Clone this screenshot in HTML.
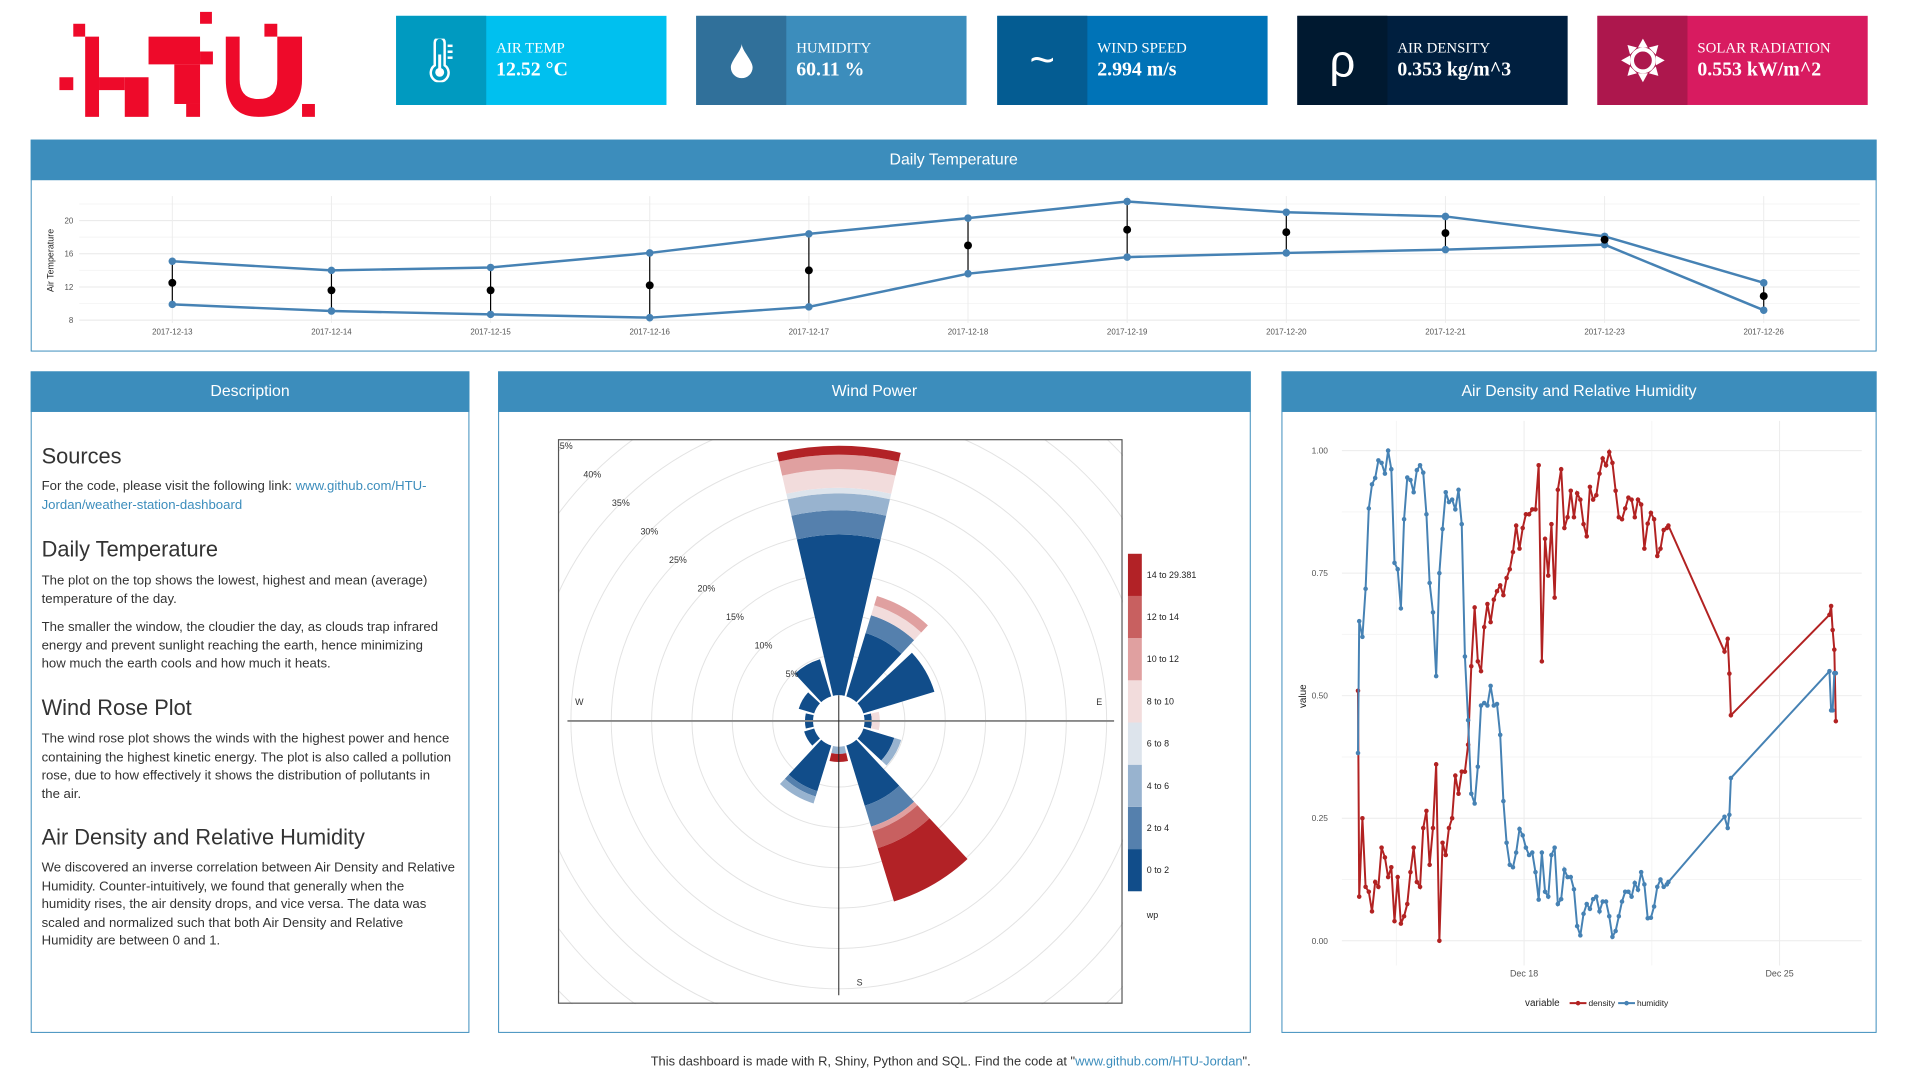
<!DOCTYPE html>
<html><head><meta charset="utf-8"><title>HTU Weather Station Dashboard</title>
<style>
html,body{margin:0;padding:0;background:#fff;}
body{width:1920px;height:1080px;position:relative;overflow:hidden;font-family:"Liberation Sans",sans-serif;}
#root{position:absolute;left:0;top:0;width:1920px;height:1080px;transform:scale(0.9903);transform-origin:0 0;}
.kpi{position:absolute;top:16px;width:273px;height:90px;color:#fff;}
.kpi .ic{position:absolute;left:0;top:0;width:91px;height:90px;display:flex;align-items:center;justify-content:center;}
.kpi .lb{position:absolute;left:101px;top:25px;font-family:"Liberation Serif",serif;font-size:15px;line-height:16px;}
.kpi .vl{position:absolute;left:101px;top:43px;font-family:"Liberation Serif",serif;font-size:20px;font-weight:bold;line-height:22px;}
.panel{position:absolute;border:1px solid #3c8dbc;box-sizing:border-box;background:#fff;}
.panel .hd{position:absolute;left:-1px;right:-1px;top:-1px;height:41px;background:#3c8dbc;color:#fff;font-size:16px;text-align:center;line-height:41px;}
.desc{position:absolute;left:10px;right:10px;color:#333;}
.desc h3{position:absolute;left:0;margin:0;font-weight:normal;font-size:22px;white-space:nowrap;}
.desc p{position:absolute;left:0;margin:0;font-size:13.3px;line-height:18.5px;white-space:nowrap;}
.desc a{color:#3c8dbc;text-decoration:none;}
svg text{font-family:"Liberation Sans",sans-serif;}
</style></head>
<body>
<div id="root">
<svg style="position:absolute;left:0;top:0" width="340" height="130">
<g fill="#ee0a2a">
<rect x="60" y="78" width="14" height="13"/>
<rect x="74" y="24" width="12" height="13"/>
<rect x="86" y="37" width="14" height="81"/>
<rect x="100" y="78" width="26" height="13"/>
<rect x="126" y="78" width="24" height="40"/>
<rect x="150" y="37" width="52" height="28"/>
<rect x="202" y="52" width="13" height="13"/>
<rect x="176" y="65" width="26" height="40"/>
<rect x="188" y="105" width="14" height="13"/>
<rect x="202" y="12" width="12" height="12"/>
<rect x="267" y="24" width="13" height="13"/>
<path d="M228 37 H242 V80 Q242 100 261 100 Q280 100 280 80 V37 H305 V80 Q305 118 261 118 Q228 118 228 80 Z"/>
<rect x="305" y="105" width="13" height="13"/>
</g></svg>

<div class="kpi" style="left:400px;background:#00c0ef">
<div class="ic" style="background:#009ac0"><svg width="30" height="44" viewBox="0 0 30 44"><path d="M8 4 a5 5 0 0 1 10 0 V27 a9 9 0 1 1 -10 0 Z" fill="none" stroke="#fff" stroke-width="2.5"/><circle cx="13" cy="34" r="4.5" fill="#fff"/><rect x="11.5" y="16" width="3" height="16" fill="#fff"/><rect x="21" y="6" width="5" height="2.5" fill="#fff"/><rect x="21" y="12" width="5" height="2.5" fill="#fff"/><rect x="21" y="18" width="5" height="2.5" fill="#fff"/></svg></div>
<div class="lb">AIR TEMP</div><div class="vl">12.52 °C</div></div>

<div class="kpi" style="left:703px;background:#3c8dbc">
<div class="ic" style="background:#30709a"><svg width="26" height="36" viewBox="0 0 26 36"><path d="M13 1 C13 8 2 18 2 25 a11 11 0 0 0 22 0 C24 18 13 8 13 1Z" fill="#fff"/></svg></div>
<div class="lb">HUMIDITY</div><div class="vl">60.11 %</div></div>

<div class="kpi" style="left:1007px;background:#0073b7">
<div class="ic" style="background:#045c92;font-size:44px;font-family:'Liberation Sans',sans-serif">~</div>
<div class="lb">WIND SPEED</div><div class="vl">2.994 m/s</div></div>

<div class="kpi" style="left:1310px;background:#001f3f">
<div class="ic" style="background:#001930;font-size:46px;font-family:'Liberation Sans',sans-serif">ρ</div>
<div class="lb">AIR DENSITY</div><div class="vl">0.353 kg/m^3</div></div>

<div class="kpi" style="left:1613px;background:#d81b60">
<div class="ic" style="background:#ad174d"><svg width="46" height="46" viewBox="-23 -23 46 46"><g fill="#fff"><polygon points="0,-22 5,-13 -5,-13"/><polygon points="0,22 5,13 -5,13"/><polygon points="-22,0 -13,5 -13,-5"/><polygon points="22,0 13,5 13,-5"/><polygon points="15.6,-15.6 6,-13 13,-6"/><polygon points="-15.6,-15.6 -6,-13 -13,-6"/><polygon points="15.6,15.6 6,13 13,6"/><polygon points="-15.6,15.6 -6,13 -13,6"/></g><circle r="11" fill="none" stroke="#fff" stroke-width="4"/></svg></div>
<div class="lb">SOLAR RADIATION</div><div class="vl">0.553 kW/m^2</div></div>

<div class="panel" style="left:31px;top:141px;width:1864px;height:214px"><div class="hd">Daily Temperature</div></div>
<div class="panel" style="left:31px;top:375px;width:443px;height:668px"><div class="hd">Description</div>
<div class="desc">
<h3 style="top:72px">Sources</h3>
<p style="top:106px">For the code, please visit the following link: <a>www.github.com/HTU-<br>Jordan/weather-station-dashboard</a></p>
<h3 style="top:166px">Daily Temperature</h3>
<p style="top:201px">The plot on the top shows the lowest, highest and mean (average)<br>temperature of the day.</p>
<p style="top:248px">The smaller the window, the cloudier the day, as clouds trap infrared<br>energy and prevent sunlight reaching the earth, hence minimizing<br>how much the earth cools and how much it heats.</p>
<h3 style="top:326px">Wind Rose Plot</h3>
<p style="top:361px">The wind rose plot shows the winds with the highest power and hence<br>containing the highest kinetic energy. The plot is also called a pollution<br>rose, due to how effectively it shows the distribution of pollutants in<br>the air.</p>
<h3 style="top:457px">Air Density and Relative Humidity</h3>
<p style="top:491px">We discovered an inverse correlation between Air Density and Relative<br>Humidity. Counter-intuitively, we found that generally when the<br>humidity rises, the air density drops, and vice versa. The data was<br>scaled and normalized such that both Air Density and Relative<br>Humidity are between 0 and 1.</p>
</div></div>
<div class="panel" style="left:503px;top:375px;width:760px;height:668px"><div class="hd">Wind Power</div></div>
<div class="panel" style="left:1294px;top:375px;width:601px;height:668px"><div class="hd">Air Density and Relative Humidity</div></div>

<div style="position:absolute;left:0;width:1920px;top:1064px;text-align:center;font-size:13px;color:#333">This dashboard is made with R, Shiny, Python and SQL. Find the code at "<span style="color:#3c8dbc">www.github.com/HTU-Jordan</span>".</div>

<svg id="charts" style="position:absolute;left:0;top:0" width="1920" height="1080"></svg>
</div>
<script>
// ---- Daily temperature data ----
const tempDates = ["2017-12-13","2017-12-14","2017-12-15","2017-12-16","2017-12-17","2017-12-18","2017-12-19","2017-12-20","2017-12-21","2017-12-23","2017-12-26"];
const tempHigh = [15.1,14.0,14.35,16.1,18.4,20.3,22.3,21.0,20.5,18.1,12.5];
const tempLow = [9.9,9.1,8.7,8.3,9.6,13.6,15.6,16.1,16.5,17.1,9.2];
const tempMean = [12.5,11.6,11.6,12.2,14.0,17.0,18.9,18.6,18.5,17.7,10.9];
const tempTicks = [8,12,16,20];

// ---- Wind rose data (percent frequency per direction, per wind-power band) ----
const windDirs = [0,30,60,90,120,150,180,210,240,270,300,330];
const windBands = ["0 to 2","2 to 4","4 to 6","6 to 8","8 to 10","10 to 12","12 to 14","14 to 29.381"];
const band0 = [19.9,8.2,9.2,0.9,4.0,7.8,0,5.9,1.3,1.0,2.0,4.8];
const band1 = [3.0,2.3,0,0,0,2.7,0,0.7,0,0,0,0];
const band2 = [2.1,0,0,0,0.9,0,0.9,0.9,0,0,0,0];
const band3 = [0.7,0,0,0,0,0,0,0,0,0,0,0];
const band4 = [2.3,1.3,0,1.0,0,0,0,0,0,0,0,0];
const band5 = [1.8,1.2,0,0,0,0.6,0,0,0,0,0,0];
const band6 = [0,0,0,0,0,2.2,0,0,0,0,0,0];
const band7 = [1.1,0,0,0,0,6.9,1.0,0,0,0,0,0];
const ringPcts = [5,10,15,20,25,30,35,40,45];

// ---- Air density / humidity data (hours since 2017-12-13 00:00) ----
const adHours = [10.8,11.6,13.7,15.8,17.9,20.0,22.1,24.2,26.3,28.5,30.6,32.7,34.8,36.9,39.0,41.1,43.2,45.3,47.4,49.5,51.6,53.7,55.8,57.9,60.1,62.2,64.3,66.4,68.5,70.6,72.7,74.8,76.9,79.0,81.1,83.2,85.3,87.5,89.6,91.7,93.8,95.9,98.0,100.1,102.2,104.3,106.4,108.5,110.6,112.7,114.8,117.0,119.1,121.2,123.3,125.4,127.5,129.6,131.7,133.8,135.9,138.0,140.1,142.2,144.4,146.5,148.6,150.7,152.8,154.9,157.0,159.1,161.2,163.3,165.4,167.5,169.6,171.7,173.9,176.0,178.1,180.2,182.3,184.4,186.5,188.6,190.7,192.8,194.9,197.0,199.1,201.3,203.4,205.5,207.6,209.7,211.8,213.9,214.9,251.8,253.9,255.0,256.0,320.8,321.9,322.9,324.0,325.0];
const density = [0.51,0.09,0.25,0.11,0.10,0.06,0.12,0.11,0.19,0.17,0.13,0.15,0.04,0.13,0.035,0.05,0.075,0.14,0.19,0.12,0.11,0.23,0.265,0.155,0.23,0.36,0.0,0.20,0.175,0.23,0.25,0.337,0.30,0.345,0.345,0.40,0.56,0.68,0.57,0.55,0.64,0.687,0.65,0.696,0.713,0.725,0.705,0.74,0.758,0.793,0.847,0.80,0.842,0.87,0.87,0.88,0.88,0.97,0.57,0.82,0.745,0.85,0.70,0.92,0.962,0.842,0.864,0.918,0.864,0.913,0.90,0.85,0.825,0.926,0.90,0.909,0.953,0.984,0.97,0.997,0.975,0.918,0.864,0.86,0.882,0.904,0.90,0.864,0.90,0.89,0.80,0.851,0.873,0.86,0.785,0.80,0.838,0.842,0.847,0.59,0.616,0.545,0.46,0.665,0.683,0.634,0.594,0.448];
const humidity = [0.383,0.652,0.62,0.718,0.882,0.931,0.944,0.98,0.975,0.953,1.0,0.962,0.771,0.758,0.678,0.86,0.945,0.94,0.915,0.96,0.97,0.955,0.87,0.73,0.67,0.54,0.75,0.84,0.915,0.895,0.90,0.88,0.92,0.85,0.58,0.45,0.30,0.28,0.355,0.48,0.485,0.48,0.52,0.48,0.483,0.42,0.285,0.20,0.155,0.15,0.18,0.228,0.215,0.19,0.175,0.18,0.14,0.084,0.18,0.10,0.09,0.175,0.19,0.075,0.085,0.145,0.13,0.13,0.105,0.03,0.011,0.055,0.075,0.065,0.085,0.09,0.06,0.08,0.08,0.05,0.008,0.02,0.05,0.08,0.10,0.10,0.09,0.118,0.104,0.14,0.115,0.046,0.047,0.07,0.11,0.125,0.11,0.115,0.12,0.253,0.23,0.257,0.332,0.55,0.47,0.47,0.546,0.546];
const adTicks = [0,0.25,0.5,0.75,1.0];
const adDateTicks = ["Dec 18","Dec 25"];
const adDateTickHours = [120,288];

const NS="http://www.w3.org/2000/svg";
const svg=document.getElementById('charts');
function mk(tag,attrs,parent){const e=document.createElementNS(NS,tag);for(const k in attrs)e.setAttribute(k,attrs[k]);(parent||svg).appendChild(e);return e;}
function txt(s,attrs,parent){const e=mk('text',attrs,parent);e.textContent=s;return e;}

// ===== Daily temperature chart =====
(function(){
 const g=mk('g',{});
 
 
 const tx=i=>174+i*160.7, ty=v=>323.3-(v-8)*8.38;
 for(let v=10;v<=22;v+=4){const l=mk('line',{x1:80,x2:1878,y1:ty(v),y2:ty(v),stroke:'#f4f4f4','stroke-width':1},g);}
 tempTicks.forEach(v=>{const l=mk('line',{x1:80,x2:1878,y1:ty(v),y2:ty(v),stroke:'#e8e8e8','stroke-width':1},g);
  const t=txt(String(v),{x:74,y:ty(v)+3,'font-size':8,fill:'#555','text-anchor':'end'},g);});
 tempDates.forEach((d,i)=>{const l=mk('line',{x1:tx(i),x2:tx(i),y1:198,y2:326,stroke:'#ececec','stroke-width':1},g);
  const t=txt(d,{x:tx(i),y:338,'font-size':8,fill:'#555','text-anchor':'middle'},g);});
 const yl=txt('Air Temperature',{x:0,y:0,'font-size':9,fill:'#222','text-anchor':'middle',transform:'translate(54,263) rotate(-90)'},g);
 
 tempDates.forEach((d,i)=>{const l=mk('line',{x1:tx(i),x2:tx(i),y1:ty(tempLow[i]),y2:ty(tempHigh[i]),stroke:'#000','stroke-width':1.2},g);});
 [[tempHigh,'high-temp-line'],[tempLow,'low-temp-line']].forEach(([arr,nm])=>{
  const p=mk('polyline',{points:arr.map((v,i)=>tx(i)+','+ty(v)).join(' '),fill:'none',stroke:'#4682b4','stroke-width':2.5},g);
  
  arr.forEach((v,i)=>{const c=mk('circle',{cx:tx(i),cy:ty(v),r:3.8,fill:'#4682b4'},g);});
 });
 tempMean.forEach((v,i)=>{const c=mk('circle',{cx:tx(i),cy:ty(v),r:4,fill:'#000'},g);});
})();

// ===== Wind rose =====
(function(){
 const g=mk('g',{});
 
 
 const cx=847,cy=728,r0=26,k=8.15; const rr=p=>r0+k*p;
 const clip=mk('clipPath',{id:'wrclip'},g); mk('rect',{x:564,y:444,width:570,height:570},clip);
 const gg=mk('g',{'clip-path':'url(#wrclip)'},g);
 ringPcts.forEach(p=>{const c=mk('circle',{cx:cx,cy:cy,r:rr(p),fill:'none',stroke:'#e3e3e3','stroke-width':1},gg);});
 const bands=[band0,band1,band2,band3,band4,band5,band6,band7];
 const cols=['#114d8a','#5580ad','#98b3cf','#dde4ec','#f2dcdc','#e0a0a0','#c86060','#b22226'];
 const pt=(a,r)=>[cx+r*Math.sin(a*Math.PI/180),cy-r*Math.cos(a*Math.PI/180)];
 windDirs.forEach((d,i)=>{let cum=0;bands.forEach((b,j)=>{const v=b[i];if(v<=0)return;const a1=d-13,a2=d+13;const ri=rr(cum),ro=rr(cum+v);cum+=v;
  const p1=pt(a1,ri),p2=pt(a1,ro),p3=pt(a2,ro),p4=pt(a2,ri);
  const p=mk('path',{d:`M${p1} L${p2} A${ro},${ro} 0 0 1 ${p3} L${p4} A${ri},${ri} 0 0 0 ${p1}Z`,fill:cols[j]},gg);
  });});
 const h=mk('line',{x1:573,x2:1125,y1:cy,y2:cy,stroke:'#888','stroke-width':2},g);
 const v=mk('line',{x1:cx,x2:cx,y1:cy-r0,y2:1005,stroke:'#222','stroke-width':1},g);
 ringPcts.forEach(p=>{const q=pt(-45,rr(p));const t=txt(p+'%',{x:q[0],y:q[1]+3,'font-size':9,fill:'#333','text-anchor':'middle'},gg);});
 [['W',585,712],['E',1110,712],['S',868,995]].forEach(([s,x,y])=>{const t=txt(s,{x:x,y:y,'font-size':9,fill:'#333','text-anchor':'middle'},g);});
 const fr=mk('rect',{x:564,y:444,width:569,height:569,fill:'none',stroke:'#555','stroke-width':1.2},g);
 const segH=42.6;
 windBands.forEach((lab,j)=>{const y=900-(j+1)*segH;const r=mk('rect',{x:1139,y:y,width:14,height:segH,fill:cols[j]},g);
  const t=txt(lab,{x:1158,y:y+segH/2+3,'font-size':9,fill:'#222'},g);});
 const wp=txt('wp',{x:1158,y:927,'font-size':9,fill:'#222'},g);
})();

// ===== Air density / humidity =====
(function(){
 const g=mk('g',{});
 
 
 const x=h=>1539+(h-120)*1.5357, y=v=>950-v*495;
 for(let v=0.125;v<1.1;v+=0.25){const l=mk('line',{x1:1355,x2:1880,y1:y(v),y2:y(v),stroke:'#f5f5f5'},g);}
 [36,204].forEach(hh=>{const l=mk('line',{x1:x(hh),x2:x(hh),y1:425,y2:975,stroke:'#f5f5f5'},g);});
 adTicks.forEach(v=>{const l=mk('line',{x1:1355,x2:1880,y1:y(v),y2:y(v),stroke:'#ececec'},g);
  const t=txt(v.toFixed(2),{x:1341,y:y(v)+3,'font-size':8.5,fill:'#555','text-anchor':'end'},g);});
 adDateTicks.forEach((s,i)=>{const l=mk('line',{x1:x(adDateTickHours[i]),x2:x(adDateTickHours[i]),y1:425,y2:975,stroke:'#ececec'},g);
  const t=txt(s,{x:x(adDateTickHours[i]),y:986,'font-size':9,fill:'#555','text-anchor':'middle'},g);});
 const yl=txt('value',{x:0,y:0,'font-size':10,fill:'#222','text-anchor':'middle',transform:'translate(1319,703) rotate(-90)'},g);
 [[density,'#b22222','density-line'],[humidity,'#4682b4','humidity-line']].forEach(([arr,col,nm])=>{
  const p=mk('polyline',{points:arr.map((v,i)=>x(adHours[i])+','+y(v)).join(' '),fill:'none',stroke:col,'stroke-width':2},g);
  
  arr.forEach((v,i)=>{const c=mk('circle',{cx:x(adHours[i]),cy:y(v),r:2.3,fill:col},g);});
 });
 const lt=txt('variable',{x:1540,y:1016,'font-size':10,fill:'#222'},g);
 [['#b22222','density',1585],['#4682b4','humidity',1634]].forEach(([c,s,x0])=>{
  const l=mk('line',{x1:x0,x2:x0+17,y1:1013,y2:1013,stroke:c,'stroke-width':2},g);
  mk('circle',{cx:x0+8.5,cy:1013,r:2.3,fill:c},g);
  const t=txt(s,{x:x0+19,y:1016,'font-size':8.5,fill:'#222'},g);});
})();
</script>
</body></html>
